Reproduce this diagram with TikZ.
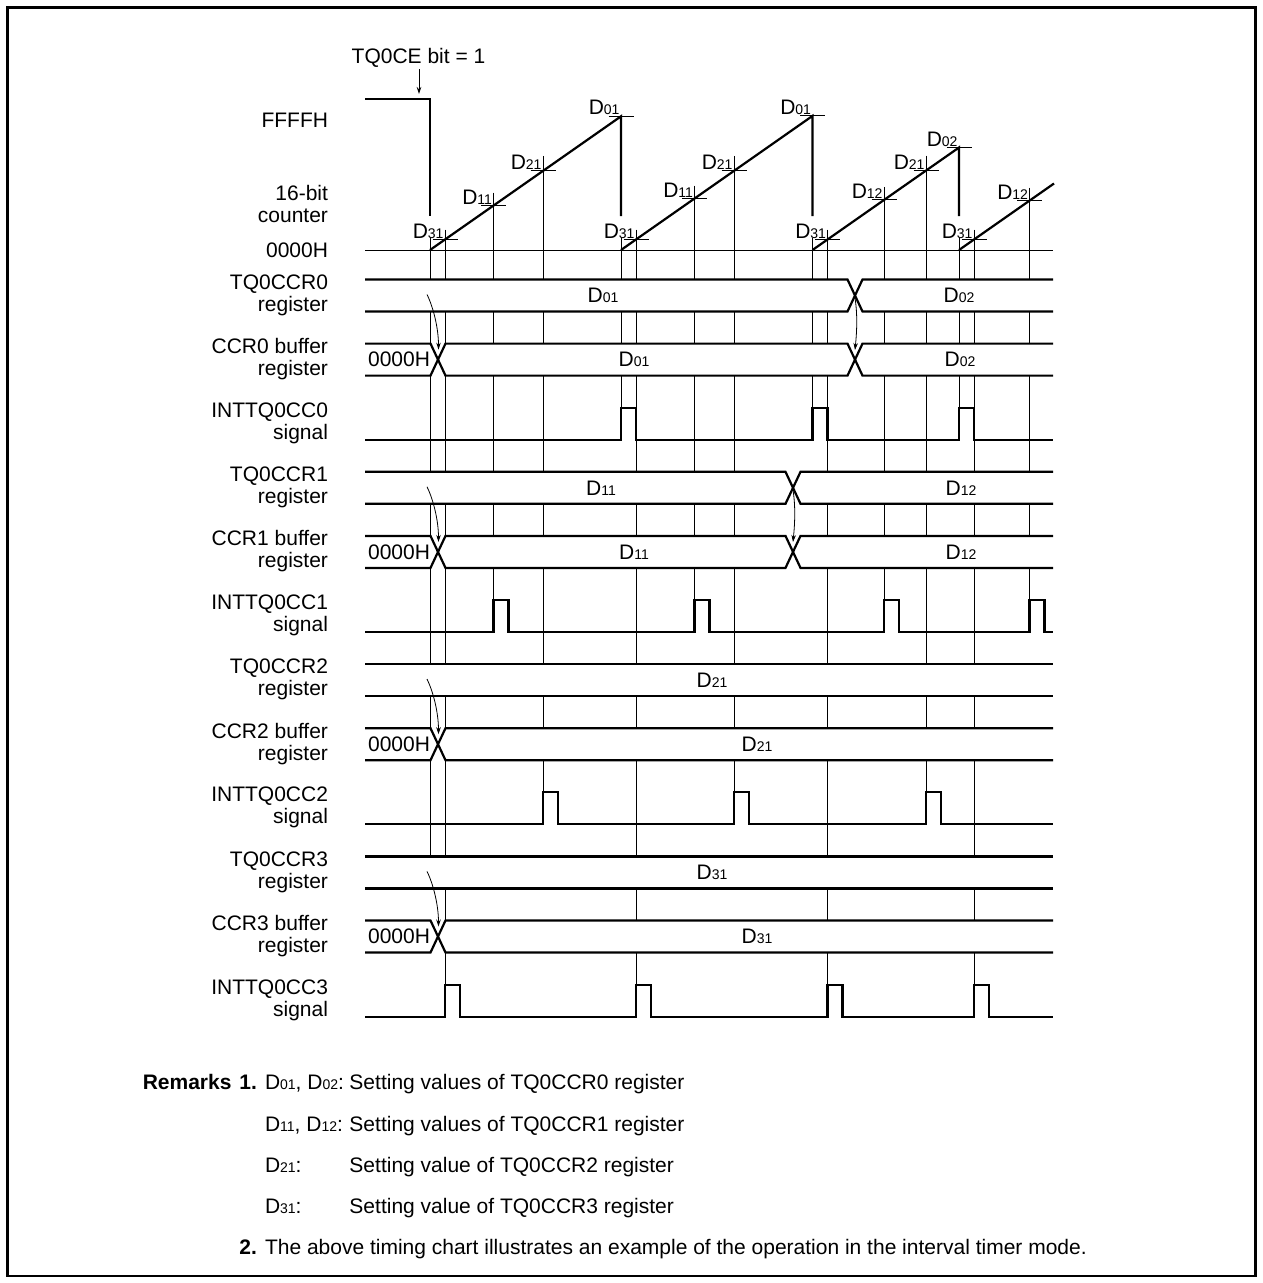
\documentclass[tikz,border=0pt]{standalone}
\usepackage{fontspec}
\setmainfont{Liberation Sans}
\usetikzlibrary{arrows.meta}
\newcommand\Dn[1]{D{\fontsize{14}{14}\selectfont #1}}
\begin{document}
\begin{tikzpicture}[x=1pt,y=-1pt,
  every node/.style={font=\fontsize{21}{22}\selectfont, inner sep=0pt, outer sep=0pt},
  boldtext/.style={font=\fontsize{21}{22}\selectfont\bfseries},
  wave/.style={line width=2.2pt},
  gridl/.style={line width=0.9pt},
  arr/.style={line width=0.8pt,-{Stealth[length=7pt,width=4.5pt]}},
  sig/.style={align=right, anchor=east},
  busfill/.style={fill=white}]
\useasboundingbox (0,0) rectangle (1262,1283);
\draw[line width=2.6pt] (7.5,7.5) rectangle (1255.5,1276);

% ---------- grid lines ----------
\draw[gridl] (430,238) -- (430,856.4);
\foreach \x/\y in {445/239.5, 636/239.5, 827.5/239.5, 974/239.5}
  \draw[gridl] (\x,\y-10) -- (\x,1016.6);
\foreach \x/\y in {493.5/205.6, 694.5/198.6, 884/199.9, 1029.5/200.6}
  \draw[gridl] (\x,\y-13) -- (\x,632);
\foreach \x/\y in {543/170.9, 734/170.9, 926/170.6}
  \draw[gridl] (\x,\y-15) -- (\x,824.3);
\foreach \x in {621, 812.5, 959}
  \draw[gridl] (\x,238) -- (\x,439.7);

% ---------- counter ----------
\draw[gridl] (365,250) -- (1053,250);
\draw[wave] (365,99) -- (430,99) -- (430,216);
\draw[wave] (430,250) -- (621,116.3) -- (621,216);
\draw[wave] (621,250) -- (812.5,115.9) -- (812.5,216);
\draw[wave] (812.5,250) -- (959,147.5) -- (959,216);
\draw[wave] (959,250) -- (1054,183.5);
\foreach \x/\y/\l [count=\i] in {445/239.5/31, 493.5/205.6/11, 543/170.9/21, 621/116.3/01,
    636/239.5/31, 694.5/198.6/11, 734/170.9/21, 812.5/115.9/01,
    827.5/239.5/31, 884/199.9/12, 926/170.6/21, 959/147.5/02,
    974/239.5/31, 1029.5/200.6/12}
{
  \draw[gridl] (\x-12.5,\y) -- (\x+12.5,\y);
  \node[anchor=base east] (tk\i) at (\x-1.5,\y-1.5) {\Dn{\l}};
}

% TQ0CE
\node (tqce) at (418.5,58) {TQ0CE bit = 1};
\coordinate (tqceA) at (419,69);
\coordinate (tqceB) at (419,94);
\draw[arr] (tqceA) -- (tqceB);

% ---------- left labels ----------
\node[sig] (lffff) at (328,120) {FFFFH};
\node[sig] (lcnt) at (328,203.5) {16-bit\\counter};
\node[sig] (lzero) at (328,250) {0000H};
\foreach \t/\a/\b [count=\i] in {279.5/TQ0CCR0/register, 343.6/CCR0 buffer/register,
   407.7/INTTQ0CC0/signal, 471.8/TQ0CCR1/register, 535.9/CCR1 buffer/register,
   600.0/INTTQ0CC1/signal, 664.1/TQ0CCR2/register, 728.2/CCR2 buffer/register,
   792.3/INTTQ0CC2/signal, 856.4/TQ0CCR3/register, 920.5/CCR3 buffer/register,
   984.6/INTTQ0CC3/signal}
  \node[sig] (row\i) at (328,\t+15.5) {\a\\\b};

% ---------- buses ----------
% TQ0CCR0
\fill[busfill] (365,279.5) rectangle (1053,311.5);
\draw[wave] (365,279.5) -- (847.5,279.5) -- (862.5,311.5) -- (1053,311.5);
\draw[wave] (365,311.5) -- (847.5,311.5) -- (862.5,279.5) -- (1053,279.5);
\node (b0a) at (603,295.5) {\Dn{01}};
\node (b0b) at (959,295.5) {\Dn{02}};
% CCR0 buffer
\fill[busfill] (365,343.6) rectangle (1053,375.6);
\draw[wave] (365,343.6) -- (430.5,343.6) -- (445.5,375.6) -- (847.5,375.6) -- (862.5,343.6) -- (1053,343.6);
\draw[wave] (365,375.6) -- (430.5,375.6) -- (445.5,343.6) -- (847.5,343.6) -- (862.5,375.6) -- (1053,375.6);
\node[anchor=east] (b1z) at (430,359.6) {0000H};
\node (b1a) at (634,359.6) {\Dn{01}};
\node (b1b) at (960,359.6) {\Dn{02}};
% TQ0CCR1
\fill[busfill] (365,471.8) rectangle (1053,503.8);
\draw[wave] (365,471.8) -- (785.5,471.8) -- (800.5,503.8) -- (1053,503.8);
\draw[wave] (365,503.8) -- (785.5,503.8) -- (800.5,471.8) -- (1053,471.8);
\node (b3a) at (601,487.8) {\Dn{11}};
\node (b3b) at (961,487.8) {\Dn{12}};
% CCR1 buffer
\fill[busfill] (365,535.9) rectangle (1053,567.9);
\draw[wave] (365,535.9) -- (430.5,535.9) -- (445.5,567.9) -- (785.5,567.9) -- (800.5,535.9) -- (1053,535.9);
\draw[wave] (365,567.9) -- (430.5,567.9) -- (445.5,535.9) -- (785.5,535.9) -- (800.5,567.9) -- (1053,567.9);
\node[anchor=east] (b4z) at (430,551.9) {0000H};
\node (b4a) at (634,551.9) {\Dn{11}};
\node (b4b) at (961,551.9) {\Dn{12}};
% TQ0CCR2
\fill[busfill] (365,664.1) rectangle (1053,696.1);
\draw[wave] (365,664.1) -- (1053,664.1);
\draw[wave] (365,696.1) -- (1053,696.1);
\node (b6a) at (712,680.1) {\Dn{21}};
% CCR2 buffer
\fill[busfill] (365,728.2) rectangle (1053,760.2);
\draw[wave] (365,728.2) -- (430.5,728.2) -- (445.5,760.2) -- (1053,760.2);
\draw[wave] (365,760.2) -- (430.5,760.2) -- (445.5,728.2) -- (1053,728.2);
\node[anchor=east] (b7z) at (430,744.2) {0000H};
\node (b7a) at (757,744.2) {\Dn{21}};
% TQ0CCR3
\fill[busfill] (365,856.4) rectangle (1053,888.4);
\draw[wave] (365,856.4) -- (1053,856.4);
\draw[wave] (365,888.4) -- (1053,888.4);
\node (b9a) at (712,872.4) {\Dn{31}};
% CCR3 buffer
\fill[busfill] (365,920.5) rectangle (1053,952.5);
\draw[wave] (365,920.5) -- (430.5,920.5) -- (445.5,952.5) -- (1053,952.5);
\draw[wave] (365,952.5) -- (430.5,952.5) -- (445.5,920.5) -- (1053,920.5);
\node[anchor=east] (b10z) at (430,936.5) {0000H};
\node (b10a) at (757,936.5) {\Dn{31}};

% ---------- interrupt pulses ----------
\draw[wave] (365,439.7) -- (621,439.7) -- (621,407.7) -- (636,407.7) -- (636,439.7)
  -- (812.5,439.7) -- (812.5,407.7) -- (827.5,407.7) -- (827.5,439.7)
  -- (959,439.7) -- (959,407.7) -- (974,407.7) -- (974,439.7) -- (1053,439.7);
\draw[wave] (365,632) -- (493.5,632) -- (493.5,600) -- (508.5,600) -- (508.5,632)
  -- (694.5,632) -- (694.5,600) -- (709.5,600) -- (709.5,632)
  -- (884,632) -- (884,600) -- (899,600) -- (899,632)
  -- (1029.5,632) -- (1029.5,600) -- (1044.5,600) -- (1044.5,632) -- (1053,632);
\draw[wave] (365,824.3) -- (543,824.3) -- (543,792.3) -- (558,792.3) -- (558,824.3)
  -- (734,824.3) -- (734,792.3) -- (749,792.3) -- (749,824.3)
  -- (926,824.3) -- (926,792.3) -- (941,792.3) -- (941,824.3) -- (1053,824.3);
\draw[wave] (365,1016.6) -- (445,1016.6) -- (445,984.6) -- (460,984.6) -- (460,1016.6)
  -- (636,1016.6) -- (636,984.6) -- (651,984.6) -- (651,1016.6)
  -- (827.5,1016.6) -- (827.5,984.6) -- (842.5,984.6) -- (842.5,1016.6)
  -- (974,1016.6) -- (974,984.6) -- (989,984.6) -- (989,1016.6) -- (1053,1016.6);

% ---------- transfer arrows ----------
\foreach \a/\b [count=\i] in {279.5/343.6, 471.8/535.9, 664.1/728.2, 856.4/920.5}
{
  \coordinate (as\i) at (427,\a+15);
  \coordinate (ae\i) at (438.5,\b+6);
  \draw[arr] (as\i) .. controls (433,\a+27) and (438.5,\b-16) .. (ae\i);
}
\coordinate (m0s) at (855,298);
\coordinate (m0e) at (855,350);
\draw[arr] (m0s) .. controls (857.5,314) and (857,330) .. (m0e);
\coordinate (m1s) at (793,490);
\coordinate (m1e) at (793,542);
\draw[arr] (m1s) .. controls (795.5,506) and (795,522) .. (m1e);

% ---------- remarks ----------
\node[boldtext, anchor=base east] (remA) at (257,1089) {Remarks\hspace{8pt}1.};
\node[anchor=base west] (r1a) at (265,1089) {\Dn{01}, \Dn{02}:};
\node[anchor=base west] (r1b) at ([xshift=5.5pt]r1a.base east) {Setting values of TQ0CCR0 register};
\node[anchor=base west] (r2a) at (265,1131) {\Dn{11}, \Dn{12}:};
\node[anchor=base west] (r2b) at (r1b.base west |- r2a.base) {Setting values of TQ0CCR1 register};
\node[anchor=base west] (r3a) at (265,1172) {\Dn{21}:};
\node[anchor=base west] (r3b) at (r1b.base west |- r3a.base) {Setting value of TQ0CCR2 register};
\node[anchor=base west] (r4a) at (265,1213) {\Dn{31}:};
\node[anchor=base west] (r4b) at (r1b.base west |- r4a.base) {Setting value of TQ0CCR3 register};
\node[boldtext, anchor=base east] (rem2) at (257,1254) {2.};
\node[anchor=base west] (r5) at (265,1254) {The above timing chart illustrates an example of the operation in the interval timer mode.};
\end{tikzpicture}
\end{document}
